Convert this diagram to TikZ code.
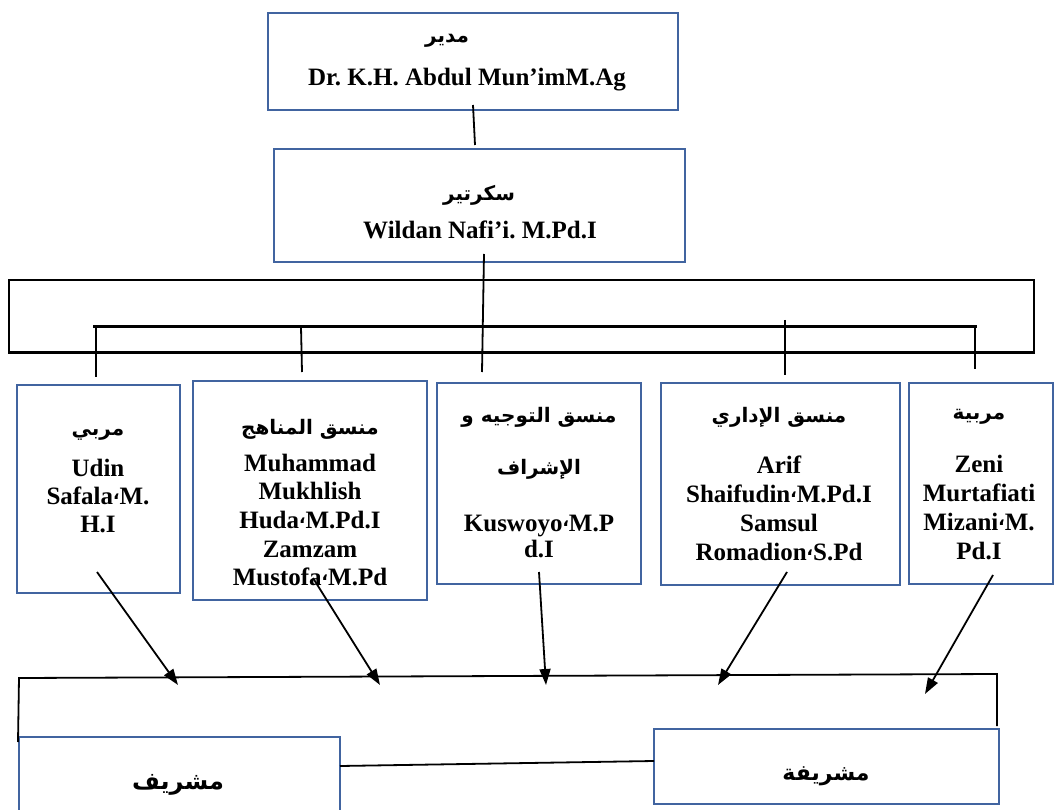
\documentclass[tikz,border=0pt]{standalone}
\usepackage{fontspec}
\setmainfont{Liberation Serif}
\newfontfamily\arabicfont[Script=Arabic]{DejaVu Sans}
\TeXXeTstate=1
\frenchspacing
\usetikzlibrary{arrows.meta,calc}
\definecolor{boxblue}{RGB}{65,100,160}
\newcommand{\acomma}{\raisebox{5pt}{\arabicfont\fontsize{17}{17}\selectfont ،}}
\begin{document}
\begin{tikzpicture}[x=1pt,y=-1pt,
  box/.style={draw=boxblue, line width=2pt, inner sep=0pt, outer sep=0pt},
  lat/.style={font=\bfseries\fontsize{25}{28}\selectfont, align=center, inner sep=0pt},
  ar/.style={font=\arabicfont\bfseries\fontsize{20}{26}\selectfont, align=center, inner sep=0pt},
  ln/.style={line width=1.8pt, black},
  arr/.style={line width=1.8pt, black, -{Triangle[length=16pt,width=11pt]}}]
\clip (0,0) rectangle (1055,810);
\fill[white] (0,0) rectangle (1055,810);
% top boxes
\node[box, minimum width=410pt, minimum height=97pt] (dir) at (473,61.5) {};
\node[ar] (dirA) at (447,41) {\beginR مدير\endR};
\node[lat] (dirL) at (467,80) {Dr. K.H. Abdul Mun’imM.Ag};
\node[box, minimum width=411pt, minimum height=113pt] (sec) at (479.5,205.5) {};
\node[ar] (secA) at (479,195) {\beginR سكرتير\endR};
\node[lat] (secL) at (480,230) {Wildan Nafi’i. M.Pd.I};
% frame
\node[draw, line width=1.4pt, minimum width=1025pt, minimum height=72pt, inner sep=0pt] (frame) at (521.5,316) {};
\draw[line width=3pt] (frame.south west) -- (frame.south east);
% connectors top
\coordinate (d1) at (473,105); \coordinate (d2) at (475,145);
\draw[ln] (d1) -- (d2);
\coordinate (s1) at (484,254); \coordinate (s2) at (482,372);
\draw[ln] (s1) -- (s2);
\coordinate (barL) at (93,327); \coordinate (barR) at (977,327);
\draw[line width=3pt] (barL) -- (barR);
\coordinate (v1a) at (96,327); \coordinate (v1b) at (96,377);
\coordinate (v2a) at (301,327); \coordinate (v2b) at (302,372);
\coordinate (v4a) at (785,320); \coordinate (v4b) at (785,375);
\coordinate (v5a) at (975,327); \coordinate (v5b) at (975,369);
\draw[ln] (v1a) -- (v1b);
\draw[ln] (v2a) -- (v2b);
\draw[ln] (v4a) -- (v4b);
\draw[ln] (v5a) -- (v5b);
% row of boxes
\node[box, minimum width=163pt, minimum height=208pt] (A) at (98.5,489) {};
\node[ar] (AA) at (98,435) {\beginR مربي\endR};
\node[lat] (AL) at (98,496) {Udin\\Safala\acomma M.\\H.I};
\node[box, minimum width=234pt, minimum height=219pt] (B) at (310,490.5) {};
\node[ar] (BA) at (310,429) {\beginR منسق المناهج\endR};
\node[lat, font=\bfseries\fontsize{25}{28.7}\selectfont] (BL) at (310,520) {Muhammad\\Mukhlish\\Huda\acomma M.Pd.I\\Zamzam\\Mustofa\acomma M.Pd};
\node[box, minimum width=204pt, minimum height=201pt] (C) at (539,483.5) {};
\node[ar, font=\arabicfont\bfseries\fontsize{20}{52}\selectfont] (CA) at (539,443) {\beginR منسق التوجيه و\endR\\\beginR الإشراف\endR};
\node[lat, font=\bfseries\fontsize{25}{26}\selectfont] (CL) at (539,536) {Kuswoyo\acomma M.P\\d.I};
\node[box, minimum width=239pt, minimum height=202pt] (D) at (780.5,484) {};
\node[ar] (DA) at (779,417) {\beginR منسق الإداري\endR};
\node[lat, font=\bfseries\fontsize{25}{29}\selectfont] (DL) at (779,508) {Arif\\Shaifudin\acomma M.Pd.I\\Samsul\\Romadion\acomma S.Pd};
\node[box, minimum width=144pt, minimum height=201pt] (E) at (981,483.5) {};
\node[ar] (EA) at (979,417) {\beginR مربية\endR};
\node[lat, font=\bfseries\fontsize{25}{29}\selectfont] (EL) at (979,508) {Zeni\\Murtafiati\\Mizani\acomma M.\\Pd.I};
% bottom boxes
\node[box, minimum width=321pt, minimum height=86pt] (F) at (179.5,780) {};
\node[ar, font=\arabicfont\bfseries\fontsize{24}{30}\selectfont] (FA) at (178,785) {\beginR مشريف\endR};
\node[box, minimum width=345pt, minimum height=75pt] (G) at (826.5,766.5) {};
\node[ar, font=\arabicfont\bfseries\fontsize{22}{30}\selectfont] (GA) at (826,776) {\beginR مشريفة\endR};
% bus
\coordinate (busL) at (19,678); \coordinate (busR) at (997,674);
\coordinate (fl) at (18,742); \coordinate (gr) at (997,726);
\draw[ln] (fl) -- (busL) -- (busR) -- (gr);
\draw[ln] ([yshift=-29pt]F.north east) -- ([yshift=-32pt]G.north west);
% arrows
\coordinate (a1) at (97,572); \coordinate (t1) at (178,685);
\coordinate (a2) at (313,578); \coordinate (t2) at (380,685);
\coordinate (a3) at (539,572); \coordinate (t3) at (546,685);
\coordinate (a4) at (787,572); \coordinate (t4) at (718,685);
\coordinate (a5) at (993,575); \coordinate (t5) at (925,694);
\draw[arr] (a1) -- (t1);
\draw[arr] (a2) -- (t2);
\draw[arr] (a3) -- (t3);
\draw[arr] (a4) -- (t4);
\draw[arr] (a5) -- (t5);
\end{tikzpicture}
\end{document}
